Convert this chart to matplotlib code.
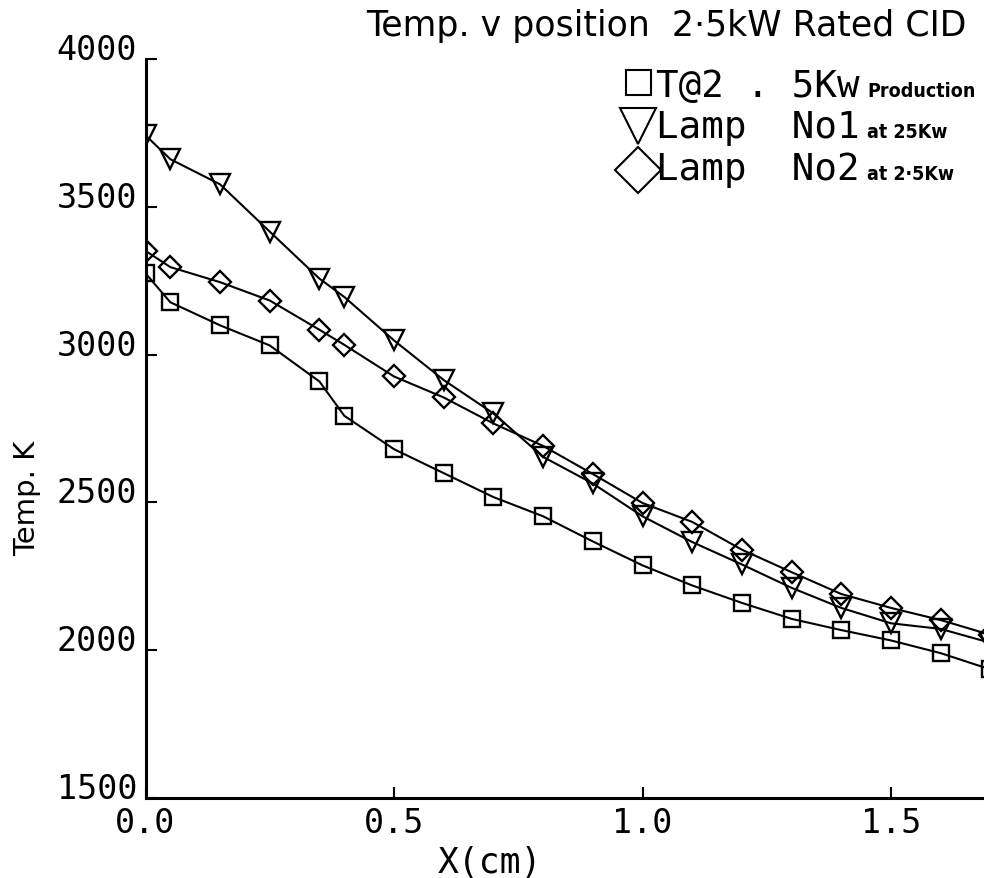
import matplotlib
matplotlib.use("Agg")
import matplotlib.pyplot as plt
from matplotlib.lines import Line2D

# ---- data ----
x_prod = [0.0, 0.05, 0.15, 0.25, 0.35, 0.4, 0.5, 0.6, 0.7, 0.8, 0.9, 1.0, 1.1, 1.2, 1.3, 1.4, 1.5, 1.6, 1.7]
t_prod = [3275, 3177, 3099, 3031, 2909, 2793, 2680, 2599, 2518, 2453, 2368, 2287, 2219, 2160, 2106, 2068, 2033, 1990, 1935]

x_lamp1 = [0.0, 0.05, 0.15, 0.25, 0.35, 0.4, 0.5, 0.6, 0.7, 0.8, 0.9, 1.0, 1.1, 1.2, 1.3, 1.4, 1.5, 1.6, 1.7]
t_lamp1 = [3742, 3661, 3576, 3416, 3257, 3195, 3048, 2914, 2801, 2654, 2564, 2453, 2366, 2290, 2211, 2143, 2091, 2072, 2025]

x_lamp2 = [0.0, 0.05, 0.15, 0.25, 0.35, 0.4, 0.5, 0.6, 0.7, 0.8, 0.9, 1.0, 1.1, 1.2, 1.3, 1.4, 1.5, 1.6, 1.7]
t_lamp2 = [3351, 3296, 3245, 3183, 3084, 3033, 2926, 2855, 2767, 2691, 2596, 2498, 2434, 2340, 2264, 2190, 2143, 2102, 2052]

xticks = [0.0, 0.5, 1.0, 1.5]
xtick_labels = ["0.0", "0.5", "1.0", "1.5"]
yticks = [1500, 2000, 2500, 3000, 3500, 4000]
ytick_labels = ["1500", "2000", "2500", "3000", "3500", "4000"]

title = "Temp. v position  2·5kW Rated CID"
xlabel = "X(cm)"
ylabel = "Temp. K"
legend_main = ["T@2 . 5Kw", "Lamp  No1", "Lamp  No2"]
legend_small = ["Production", "at 25Kw", "at 2·5Kw"]

# ---- figure ----
W, H = 984, 879
fig = plt.figure(figsize=(W / 100, H / 100), dpi=100)
ax = fig.add_axes([145.5 / W, 1 - 799 / H, 1 - 145.5 / W, (799 - 60) / H])

lw = 1.5
mew = 1.7
ax.plot(x_prod, t_prod, color="black", lw=lw, marker="s", ms=12, mfc="none", mec="black", mew=mew)
ax.plot(x_lamp1, t_lamp1, color="black", lw=lw, marker="v", ms=14, mfc="none", mec="black", mew=mew)
ax.plot(x_lamp2, t_lamp2, color="black", lw=lw, marker="D", ms=11, mfc="none", mec="black", mew=mew)

ax.set_xlim(0, (W - 145.5) / 497)
ax.set_ylim(1500, 4000)

for s in ["top", "right"]:
    ax.spines[s].set_visible(False)
for s in ["left", "bottom"]:
    ax.spines[s].set_linewidth(2.2)

mono = "DejaVu Sans Mono"
ax.set_xticks(xticks)
ax.set_xticklabels(xtick_labels, family=mono, fontsize=24)
ax.set_yticks(yticks)
ax.set_yticklabels(ytick_labels, family=mono, fontsize=24, va="baseline")
ax.tick_params(axis="both", direction="in", length=8, width=1.5)
ax.tick_params(axis="x", pad=6)
ax.tick_params(axis="y", pad=6)

fig.text(490 / W, 1 - 873 / H, xlabel, ha="center", va="baseline", family=mono, fontsize=25)
fig.text(27 / W, 1 - 498 / H, ylabel, ha="center", va="center", rotation=90, fontsize=21)

fig.text(966 / W, 1 - 36 / H, title, ha="right", va="baseline", fontsize=25)

# ---- legend (manual) ----
leg_markers = [("s", 18, 83), ("v", 26, 127), ("D", 23, 171)]
leg_baselines = [97, 138, 180]
fig.canvas.draw()
for (mk, ms, yc), main, small, yb in zip(leg_markers, legend_main, legend_small, leg_baselines):
    fig.add_artist(Line2D([638 / W], [1 - yc / H], marker=mk, ms=ms, mfc="none", mec="black",
                          mew=1.5, ls="none", transform=fig.transFigure))
    t1 = fig.text(656 / W, 1 - yb / H, main, ha="left", va="baseline", family=mono, fontsize=27)
    fig.canvas.draw()
    bb = t1.get_window_extent()
    fig.text(bb.x1 / W + 0.008, 1 - yb / H, small, ha="left", va="baseline", fontsize=14,
             fontweight="bold", fontstretch="condensed")

fig.savefig("out.png", dpi=100)
